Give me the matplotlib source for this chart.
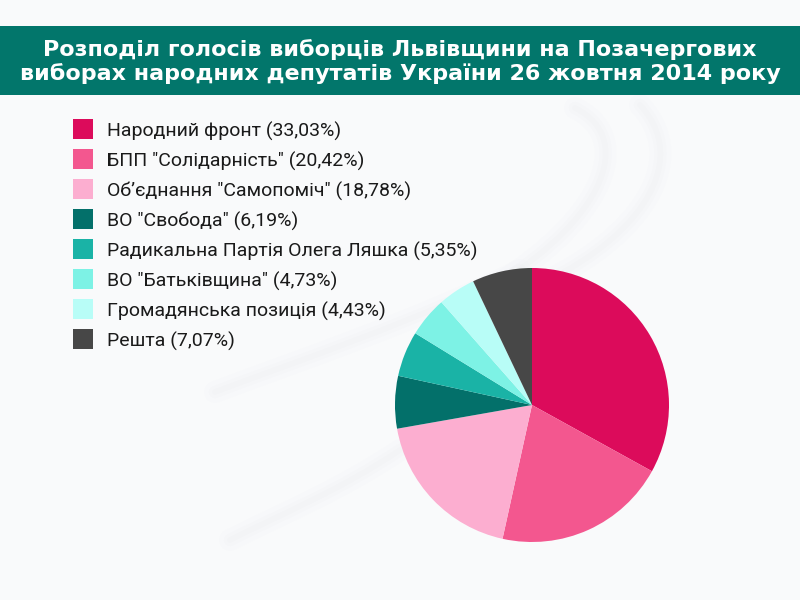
import matplotlib.pyplot as plt
from matplotlib.patches import Rectangle, PathPatch
from matplotlib.path import Path

# ---- дані ----
parties = [
    'Народний фронт',
    'БПП "Солідарність"',
    'Об’єднання "Самопоміч"',
    'ВО "Свобода"',
    'Радикальна Партія Олега Ляшка',
    'ВО "Батьківщина"',
    'Громадянська позиція',
    'Решта',
]
shares = [33.03, 20.42, 18.78, 6.19, 5.35, 4.73, 4.43, 7.07]
colors = ['#dc0b5b', '#f3578f', '#fcaed0', '#03706a',
          '#1ab3a6', '#7df2e5', '#b8fdf7', '#474747']

title_lines = [
    'Розподіл голосів виборців Львівщини на Позачергових',
    'виборах народних депутатів України 26 жовтня 2014 року',
]

W, H = 800, 600
fig = plt.figure(figsize=(8, 6), dpi=100)
fig.patch.set_facecolor('#f9fafb')

# фон з легкими "мазками" (піксельні координати, y зверху)
bg = fig.add_axes([0, 0, 1, 1])
bg.set_xlim(0, W)
bg.set_ylim(H, 0)
bg.axis('off')
swooshes = [
    [(575, 108), (640, 140), (600, 230), (470, 300)],
    [(640, 105), (700, 170), (620, 260), (500, 300)],
    [(520, 270), (420, 320), (300, 360), (215, 392)],
    [(400, 450), (340, 490), (290, 510), (230, 540)],
]
for pts in swooshes:
    path = Path(pts, [Path.MOVETO, Path.CURVE4, Path.CURVE4, Path.CURVE4])
    for lw, a in [(16, 0.012), (9, 0.016), (4, 0.02)]:
        bg.add_patch(PathPatch(path, fill=False, edgecolor='#9aa0a6',
                               lw=lw, alpha=a, capstyle='round'))

# заголовок
bg.add_patch(Rectangle((0, 26), W, 69, facecolor='#02766b', edgecolor='none'))
for i, line in enumerate(title_lines):
    bg.text(400, 56 + i * 24, line, ha='center', va='baseline',
            color='white', fontsize=16, fontweight='bold',
            family='DejaVu Sans')

# легенда
for i, (name, val, col) in enumerate(zip(parties, shares, colors)):
    yc = 129 + i * 30
    bg.add_patch(Rectangle((73, yc - 10), 20, 20, facecolor=col, edgecolor='none'))
    label = f'{name} ({val:.2f}%)'.replace('.', ',')
    bg.text(107, yc + 7.5, label, ha='left', va='baseline',
            color='#1a1a1a', fontsize=14, family='Roboto')

# кругова діаграма
cx, cy, r = 532, 405, 137
ax = fig.add_axes([(cx - r) / W, (H - cy - r) / H, 2 * r / W, 2 * r / H])
ax.pie(shares, colors=colors, startangle=90, counterclock=False,
       radius=1, wedgeprops=dict(linewidth=0))
ax.set_xlim(-1, 1)
ax.set_ylim(-1, 1)
ax.set_aspect('equal')
ax.axis('off')

fig.savefig('out.png', dpi=100, facecolor=fig.get_facecolor())
plt.close(fig)
